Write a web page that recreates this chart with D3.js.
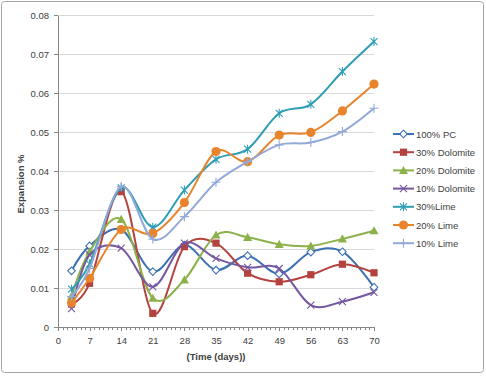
<!doctype html>
<html lang="en">
<head>
<meta charset="utf-8">
<title>Expansion vs time</title>
<script src="https://cdn.jsdelivr.net/npm/d3@7"></script>
<style>
  body { margin: 0; background: #fff; }
  text { font-family: "Liberation Sans", Arial, sans-serif; fill: #404040; }
  .grid line { stroke: #d9d9d9; stroke-width: 1; }
  .axis path, .axis line { stroke: #868686; shape-rendering: crispEdges; }
</style>
</head>
<body>
<div id="viz"></div>
<script>
// days of measurement
var days = [3, 7, 14, 21, 28, 35, 42, 49, 56, 63, 70];

var seriesNames = ["100% PC", "30% Dolomite", "20% Dolomite", "10% Dolomite", "30%Lime", "20% Lime", "10% Lime"];

// expansion %
var pc100   = [0.0144, 0.0208, 0.0250, 0.0142, 0.0210, 0.0146, 0.0183, 0.0136, 0.0192, 0.0193, 0.0102];
var dolo30  = [0.0059, 0.0112, 0.0347, 0.0035, 0.0206, 0.0215, 0.0138, 0.0116, 0.0134, 0.0161, 0.0139];
var dolo20  = [0.0079, 0.0193, 0.0276, 0.0074, 0.0121, 0.0236, 0.0230, 0.0212, 0.0208, 0.0226, 0.0247];
var dolo10  = [0.0047, 0.0185, 0.0202, 0.0103, 0.0215, 0.0176, 0.0153, 0.0150, 0.0056, 0.0065, 0.0089];
var lime30  = [0.0097, 0.0162, 0.0357, 0.0256, 0.0351, 0.0430, 0.0456, 0.0548, 0.0571, 0.0655, 0.0732];
var lime20  = [0.0062, 0.0125, 0.0250, 0.0240, 0.0319, 0.0450, 0.0424, 0.0492, 0.0499, 0.0554, 0.0623];
var lime10  = [0.0078, 0.0150, 0.0360, 0.0225, 0.0283, 0.0371, 0.0424, 0.0467, 0.0473, 0.0501, 0.0561];

var xTicks = [0, 7, 14, 21, 28, 35, 42, 49, 56, 63, 70];
var yTicks = [0, 0.01, 0.02, 0.03, 0.04, 0.05, 0.06, 0.07, 0.08];

var colors  = ["#3d71b3", "#b4423e", "#8db14a", "#7556a0", "#2f9db5", "#e8842c", "#92a9d8"];
var markers = ["diamond", "square", "triangle", "x", "star", "circle", "plus"];
var allValues = [pc100, dolo30, dolo20, dolo10, lime30, lime20, lime10];

var w = 486, h = 377;
var margin = {top: 15, right: 112, bottom: 50, left: 58};
var width = 374 - margin.left,
    height = 327 - margin.top;

var svg = d3.select("#viz").append("svg")
  .attr("width", w)
  .attr("height", h);

// chart border
svg.append("rect")
  .attr("x", 1.5).attr("y", 1.5)
  .attr("width", w - 4).attr("height", 371)
  .attr("rx", 3)
  .attr("fill", "#fff")
  .attr("stroke", "#a6a6a6");

var g = svg.append("g")
  .attr("transform", "translate(" + margin.left + "," + margin.top + ")");

var x = d3.scaleLinear().domain([0, 70]).range([0, width]);
var y = d3.scaleLinear().domain([0, 0.08]).range([height, 0]);

// horizontal gridlines
g.append("g").attr("class", "grid")
  .selectAll("line")
  .data(yTicks.slice(1))
  .enter().append("line")
  .attr("x1", 0).attr("x2", width)
  .attr("y1", d => Math.round(y(d)) + 0.5)
  .attr("y2", d => Math.round(y(d)) + 0.5);

// minor day ticks
g.append("g").attr("class", "axis")
  .attr("transform", "translate(0," + height + ")")
  .call(d3.axisBottom(x).ticks(70).tickSize(3).tickFormat(""))
  .call(a => a.select(".domain").remove());

var xAxis = g.append("g").attr("class", "axis")
  .attr("transform", "translate(0," + height + ")")
  .call(d3.axisBottom(x).tickValues(xTicks).tickSize(4).tickSizeOuter(0).tickPadding(6));

var yAxis = g.append("g").attr("class", "axis")
  .call(d3.axisLeft(y).tickValues(yTicks).tickSize(4).tickSizeOuter(0).tickPadding(5)
    .tickFormat(d => d === 0 ? "0" : d3.format(".2f")(d)));

g.selectAll(".axis text").style("font-size", "9.5px").attr("fill", "#404040");

// axis titles
svg.append("text")
  .attr("x", margin.left + width / 2)
  .attr("y", 360)
  .attr("text-anchor", "middle")
  .style("font-size", "9.5px")
  .style("font-weight", "bold")
  .text("(Time (days))");

svg.append("text")
  .attr("transform", "translate(24,184)rotate(-90)")
  .attr("text-anchor", "middle")
  .style("font-size", "9.5px")
  .style("font-weight", "bold")
  .text("Expansion %");

// smoothed lines like the spreadsheet
var line = d3.line()
  .x((d, i) => x(days[i]))
  .y(d => y(d))
  .curve(d3.curveCardinal.tension(0));

function drawMarker(sel, type, color) {
  if (type === "diamond") {
    sel.append("path").attr("d", "M0,-3.8L3.8,0L0,3.8L-3.8,0Z")
      .attr("fill", "#fff").attr("stroke", color).attr("stroke-width", 1.1);
  } else if (type === "square") {
    sel.append("rect").attr("x", -3.6).attr("y", -3.6).attr("width", 7.2).attr("height", 7.2)
      .attr("fill", color);
  } else if (type === "triangle") {
    sel.append("path").attr("d", "M0,-4.5L4.5,3.6L-4.5,3.6Z").attr("fill", color);
  } else if (type === "x") {
    sel.append("path").attr("d", "M-3.5,-3.5L3.5,3.5M-3.5,3.5L3.5,-3.5")
      .attr("stroke", color).attr("stroke-width", 1.1).attr("fill", "none");
  } else if (type === "star") {
    sel.append("path").attr("d", "M-3.5,-3.5L3.5,3.5M-3.5,3.5L3.5,-3.5M0,-4.5L0,4.5")
      .attr("stroke", color).attr("stroke-width", 1.1).attr("fill", "none");
  } else if (type === "circle") {
    sel.append("circle").attr("r", 4.6).attr("fill", color);
  } else if (type === "plus") {
    sel.append("path").attr("d", "M-4.5,0L4.5,0M0,-4.5L0,4.5")
      .attr("stroke", color).attr("stroke-width", 1.1).attr("fill", "none");
  }
}

allValues.forEach(function(vals, s) {
  g.append("path")
    .datum(vals)
    .attr("fill", "none")
    .attr("stroke", colors[s])
    .attr("stroke-width", 2)
    .attr("d", line);

  g.append("g").selectAll("g")
    .data(vals)
    .enter().append("g")
    .attr("transform", (d, i) => "translate(" + x(days[i]) + "," + y(d) + ")")
    .each(function() { drawMarker(d3.select(this), markers[s], colors[s]); });
});

// legend
var legend = svg.append("g").attr("transform", "translate(393,134)");
seriesNames.forEach(function(name, s) {
  var row = legend.append("g").attr("transform", "translate(0," + (s * 18.2) + ")");
  row.append("line").attr("x1", 0).attr("x2", 21).attr("y1", 0).attr("y2", 0)
    .attr("stroke", colors[s]).attr("stroke-width", 2);
  var m = row.append("g").attr("transform", "translate(10.5,0)");
  drawMarker(m, markers[s], colors[s]);
  row.append("text").attr("x", 23).attr("y", 3.5)
    .style("font-size", "9.5px")
    .text(name);
});
</script>
</body>
</html>
